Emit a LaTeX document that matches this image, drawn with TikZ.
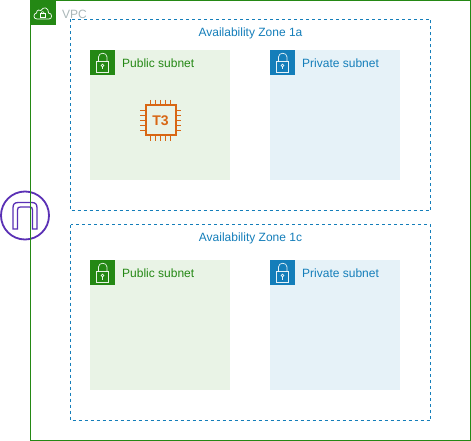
\documentclass[tikz,border=0pt]{standalone}
\usepackage{fontspec}
\setmainfont{Liberation Sans}
\definecolor{awsgreen}{HTML}{248814}
\definecolor{awsblue}{HTML}{147EBA}
\definecolor{pubfill}{HTML}{E9F3E6}
\definecolor{privfill}{HTML}{E6F2F8}
\definecolor{vpcgrey}{HTML}{AAB7B8}
\definecolor{gwpurple}{HTML}{5A30B5}
\definecolor{chiporange}{HTML}{D86613}
\newcommand{\lockicon}[3]{%
  \fill[#3] (#1,#2) rectangle +(25,25);
  \begin{scope}[shift={(#1,#2)},draw=white,line width=.7pt,opacity=.9]
    \draw (6.5,11.5) rectangle (18.5,22);
    \draw (8.5,11.5) -- (8.5,7) .. controls (8.5,2) and (17,2) .. (17,7) -- (17,11.5);
    \draw (12.5,15.5) circle (1.4);
    \draw (12.5,16.9) -- (12.5,19.5);
  \end{scope}}
\tikzset{
  x=1pt,y=-1pt,
  azbox/.style={draw=awsblue,dashed,dash pattern=on 3pt off 3pt,line width=.8pt},
  lbl/.style={font=\fontsize{12}{14}\selectfont,inner sep=0pt},
  sublbl/.style={lbl,anchor=west},
  pins/.style={chiporange,line width=1.6pt},
}
\begin{document}
\begin{tikzpicture}
\useasboundingbox (0,0) rectangle (471,441);
\fill[white] (0,0) rectangle (471,441);
% internet gateway
\draw[gwpurple,line width=1.8pt,fill=white] (25,215.5) circle (24);
\draw[gwpurple,line width=1.3pt] (13,229) -- (13,208) .. controls (13,204) and (14.5,202.5) .. (18.5,202.5) -- (31.5,202.5) .. controls (35.5,202.5) and (37,204) .. (37,208) -- (37,229) -- (32.5,229) -- (32.5,210) .. controls (32.5,207.5) and (31.5,207) .. (29.5,207) -- (20.5,207) .. controls (18.5,207) and (17.5,207.5) .. (17.5,210) -- (17.5,229) -- cycle;
% VPC
\draw[awsgreen,line width=1pt] (30.5,0.5) rectangle (470.5,440.5);
\fill[awsgreen] (30,0) rectangle (55.5,25.5);
\draw[white,line width=.7pt] (37,19) .. controls (33,19) and (33,13.5) .. (36.5,13) .. controls (36.5,9.5) and (40,9.5) .. (41,10.5) .. controls (43,6) and (49,7.5) .. (48.5,13) .. controls (52.5,13) and (52.5,19) .. (49,19) -- cycle;
\draw[white,line width=.6pt] (40.2,13.8) rectangle (45,17.2);
\draw[white,line width=.6pt] (41,13.8) .. controls (41,11) and (44.2,11) .. (44.2,13.8);
\node[lbl,anchor=west,text=vpcgrey] (vpc) at (62,14) {VPC};
% zones
\draw[azbox] (70.5,19.5) rectangle (430.5,210.5);
\draw[azbox] (70.5,224.5) rectangle (430.5,420.5);
\node[lbl,text=awsblue] (az1) at (250.5,33) {Availability Zone 1a};
\node[lbl,text=awsblue] (az2) at (250.5,238) {Availability Zone 1c};
% subnets
\fill[pubfill] (90,50) rectangle (230,180);
\fill[privfill] (270,50) rectangle (400,180);
\fill[pubfill] (90,260) rectangle (230,390);
\fill[privfill] (270,260) rectangle (400,390);
\lockicon{90}{50}{awsgreen}
\lockicon{270}{50}{awsblue}
\lockicon{90}{260}{awsgreen}
\lockicon{270}{260}{awsblue}
\node[sublbl,text=awsgreen] (pub1) at (122,63) {Public subnet};
\node[sublbl,text=awsblue] (priv1) at (302,63) {Private subnet};
\node[sublbl,text=awsgreen] (pub2) at (122,273) {Public subnet};
\node[sublbl,text=awsblue] (priv2) at (302,273) {Private subnet};
% T3 chip
\draw[chiporange,line width=2pt] (145.5,105.5) rectangle (175.5,135.5);
\foreach \p in {150.5,155.5,160.5,165.5,170.5}{
  \draw[pins] (\p,100) -- (\p,105);
  \draw[pins] (\p,136) -- (\p,141);
}
\foreach \p in {110.5,115.5,120.5,125.5,130.5}{
  \draw[pins] (140,\p) -- (145,\p);
  \draw[pins] (176,\p) -- (181,\p);
}
\node[inner sep=0pt,text=chiporange,font=\fontsize{14}{16}\selectfont\bfseries] (t3) at (160.5,120.5) {T3};
\end{tikzpicture}
\end{document}
